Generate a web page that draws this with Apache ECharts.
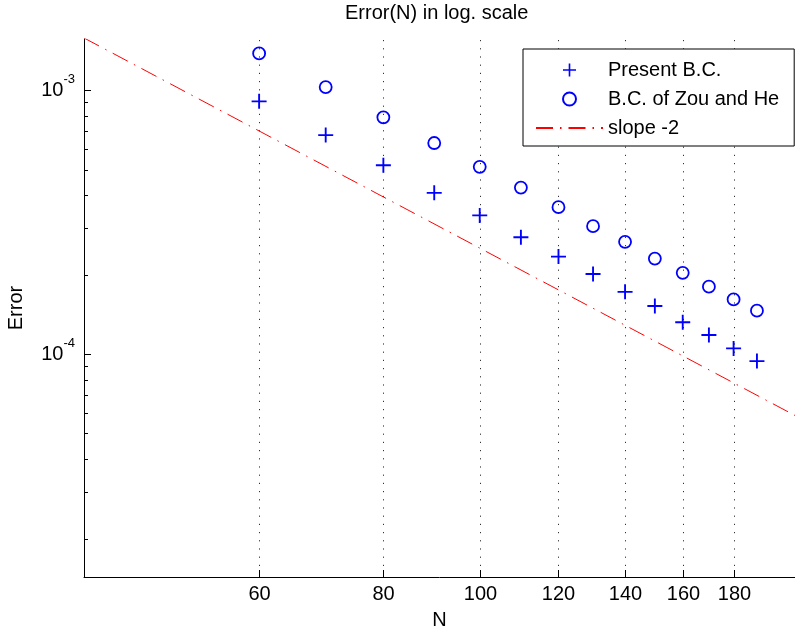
<!DOCTYPE html>
<html>
<head>
<meta charset="utf-8">
<script src="https://cdn.jsdelivr.net/npm/echarts@6/dist/echarts.min.js"></script>
<style>
html,body{margin:0;padding:0;background:#fff;}
#c{width:795px;height:632px;}
</style>
</head>
<body>
<div id="c"></div>
<script>
// ---- data ----
const nValues   = [60, 70, 80, 90, 100, 110, 120, 130, 140, 150, 160, 170, 180, 190];
const presentErr = [0.906e-3, 0.675e-3, 0.519e-3, 0.408e-3, 0.335e-3, 0.277e-3, 0.234e-3,
                    0.201e-3, 0.172e-3, 0.152e-3, 0.132e-3, 0.118e-3, 0.105e-3, 0.094e-3];
const zouHeErr   = [1.377e-3, 1.026e-3, 0.788e-3, 0.630e-3, 0.512e-3, 0.427e-3, 0.360e-3,
                    0.305e-3, 0.266e-3, 0.230e-3, 0.203e-3, 0.180e-3, 0.161e-3, 0.146e-3];
const slopeN   = [40, 207.5];
const slopeErr = [1.575e-3, 5.85e-5];
const xTickValues  = [60, 80, 100, 120, 140, 160, 180];
const yMajorTicks  = [1e-4, 1e-3];
const yMinorTicks  = [2e-5, 3e-5, 4e-5, 5e-5, 6e-5, 7e-5, 8e-5, 9e-5,
                      2e-4, 3e-4, 4e-4, 5e-4, 6e-4, 7e-4, 8e-4, 9e-4];
const xRange = [40, 207.5];
const yRange = [1.43e-5, 1.561e-3];
const seriesNames = ['Present B.C.', 'B.C. of Zou and He', 'slope -2'];
const titleText = 'Error(N) in log. scale';
const xName = 'N';
const yName = 'Error';

// ---- chart ----
const FONT = "'Liberation Sans', Arial, sans-serif";
const chart = echarts.init(document.getElementById('c'), null, {renderer: 'canvas'});

function renderXTick(params, api) {
  const cs = params.coordSys;
  const v = api.value(0);
  const x = Math.round(api.coord([v, yRange[1]])[0]) + 0.5;
  const top = cs.y, bottom = cs.y + cs.height;
  return {
    type: 'group', silent: true,
    children: [
      {type: 'line', shape: {x1: x, y1: top + 1, x2: x, y2: bottom}, style: {stroke: '#333', lineWidth: 1, lineDash: [1.2, 7]}},
      {type: 'line', shape: {x1: x, y1: bottom, x2: x, y2: bottom - 7}, style: {stroke: '#000', lineWidth: 1}},
      {type: 'text', x: x, y: bottom + 17,
       style: {text: String(v), align: 'center', verticalAlign: 'middle', fontSize: 20, fontFamily: FONT, fill: '#000'}}
    ]
  };
}
function renderYTick(params, api) {
  const cs = params.coordSys;
  const y = Math.round(api.coord([xRange[0], api.value(1)])[1]) + 0.5;
  const len = api.value(2) ? 7 : 4;
  return {
    type: 'line', silent: true,
    shape: {x1: cs.x, y1: y, x2: cs.x + len, y2: y},
    style: {stroke: '#000', lineWidth: 1}
  };
}

const plusPath = 'path://M7,0H9V16H7ZM0,7H16V9H0Z';

chart.setOption({
  animation: false,
  backgroundColor: '#fff',
  title: {
    text: titleText, left: 345, top: 3, padding: 0,
    textStyle: {fontSize: 20, fontWeight: 'normal', color: '#000', fontFamily: FONT}
  },
  legend: {
    data: [
      {name: seriesNames[0]},
      {name: seriesNames[1]},
      {name: seriesNames[2], itemStyle: {color: 'rgba(0,0,0,0)', borderColor: 'rgba(0,0,0,0)', opacity: 0}}
    ],
    orient: 'vertical',
    left: 523, top: 49,
    padding: [11, 15, 8, 12],
    itemGap: 9,
    itemWidth: 67, itemHeight: 13,
    backgroundColor: '#fff',
    borderColor: '#000', borderWidth: 1, borderRadius: 0,
    textStyle: {fontSize: 20, color: '#000', fontFamily: FONT},
    selectedMode: false
  },
  grid: {left: 84, right: 0, top: 39, bottom: 55, containLabel: false, outerBoundsMode: 'none'},
  xAxis: {
    type: 'log', min: xRange[0], max: xRange[1],
    name: xName, nameLocation: 'middle', nameGap: 33,
    nameTextStyle: {fontSize: 20, color: '#000', fontFamily: FONT},
    axisLine: {show: true, onZero: false, lineStyle: {color: '#000', width: 1}},
    axisTick: {show: false}, axisLabel: {show: false},
    splitLine: {show: false}, minorTick: {show: false}, minorSplitLine: {show: false}
  },
  yAxis: {
    type: 'log', min: yRange[0], max: yRange[1],
    name: yName, nameLocation: 'middle', nameGap: 58,
    nameTextStyle: {fontSize: 20, color: '#000', fontFamily: FONT},
    axisLine: {show: true, onZero: false, lineStyle: {color: '#000', width: 1}},
    axisTick: {show: false},
    splitLine: {show: false}, minorTick: {show: false}, minorSplitLine: {show: false},
    axisLabel: {
      show: true, margin: 9, showMinLabel: false, showMaxLabel: false,
      formatter: function (v) {
        const l = Math.log10(v), e = Math.round(l);
        if (Math.abs(l - e) > 1e-6) return '';
        return '{b|10}{s|' + e + '}';
      },
      rich: {
        b: {fontSize: 20, lineHeight: 34, color: '#000', fontFamily: FONT},
        s: {fontSize: 13, lineHeight: 13, verticalAlign: 'top', color: '#000', fontFamily: FONT}
      }
    }
  },
  series: [
    {
      type: 'custom', name: 'xticks', renderItem: renderXTick, clip: false, silent: true,
      data: xTickValues.map(v => [v, yRange[1]])
    },
    {
      type: 'custom', name: 'yticks', renderItem: renderYTick, clip: false, silent: true,
      data: yMajorTicks.map(v => [xRange[0], v, 1]).concat(yMinorTicks.map(v => [xRange[0], v, 0]))
    },
    {
      type: 'scatter', name: seriesNames[0],
      symbol: plusPath, symbolSize: 15,
      itemStyle: {color: '#0000ff', opacity: 1},
      data: nValues.map((n, i) => [n, presentErr[i]])
    },
    {
      type: 'scatter', name: seriesNames[1],
      symbol: 'circle', symbolSize: 12,
      itemStyle: {color: 'rgba(0,0,0,0)', borderColor: '#0000ff', borderWidth: 1.8, opacity: 1},
      data: nValues.map((n, i) => [n, zouHeErr[i]])
    },
    {
      type: 'line', name: seriesNames[2],
      symbol: 'none', showSymbol: false,
      lineStyle: {color: '#ff0000', width: 1, type: [17, 7, 1.5, 7]},
      itemStyle: {color: '#ff0000'},
      data: slopeN.map((n, i) => [n, slopeErr[i]])
    }
  ]
});
</script>
</body>
</html>
